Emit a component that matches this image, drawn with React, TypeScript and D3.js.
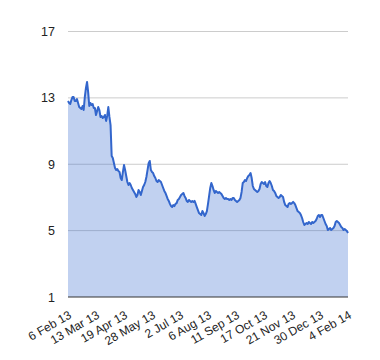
import { useEffect, useRef } from "react";
import * as d3 from "d3";

// trading-day closes, 6 Feb 13 .. 4 Feb 14
const closes: number[] = [
  12.81, 12.69, 12.63, 12.87, 13.05, 13.05, 12.81, 12.81, 12.93, 12.69,
  12.45, 12.39, 12.33, 12.51, 12.27, 13.05, 13.59, 13.96, 13.35, 12.51,
  12.69, 12.57, 12.63, 12.39, 12.39,
  11.97, 12.21, 12.45, 12.27, 11.85, 11.91, 11.79, 11.85, 11.97, 11.61,
  11.91, 12.45, 11.85, 11.36, 9.5, 9.38, 9.08, 8.77, 8.65, 8.71,
  8.59, 8.53, 8.17, 8.05, 8.53,
  8.95, 8.65, 8.29, 7.93, 7.75, 7.87, 7.75, 7.57, 7.45, 7.33,
  7.21, 7.03, 7.15, 7.45, 7.33, 7.15, 7.39, 7.63, 7.75, 7.93,
  8.23, 8.65, 9.07, 9.2, 8.65,
  8.53, 8.47, 8.29, 8.17, 7.99, 7.93, 8.05, 7.99, 7.93, 7.75,
  7.57, 7.39, 7.27, 7.09, 6.91, 6.79, 6.61, 6.48, 6.42, 6.54,
  6.48, 6.61, 6.66, 6.85, 6.91,
  7.03, 7.15, 7.21, 7.27, 7.09, 6.97, 6.79, 6.73, 6.85, 6.79,
  6.73, 6.79, 6.73, 6.79, 6.61, 6.42, 6.24, 6.06, 6.0, 5.94,
  6.18, 6.06, 5.88, 6.0, 6.18,
  6.61, 7.09, 7.57, 7.87, 7.69, 7.45, 7.27, 7.39, 7.33, 7.27,
  7.33, 7.27, 7.21, 7.09, 6.97, 6.91, 6.97, 6.91, 6.91, 6.85,
  6.91, 6.85, 6.97, 6.97, 6.85,
  6.79, 6.73, 6.79, 6.85, 6.97, 7.33, 7.87, 7.93, 8.05, 7.99,
  8.17, 8.29, 8.35, 8.47, 8.17, 7.69, 7.51, 7.45, 7.39, 7.33,
  7.39, 7.51, 7.81, 7.93, 7.87,
  7.81, 7.93, 7.69, 7.63, 7.87, 7.99, 7.87, 7.69, 7.45, 7.39,
  7.27, 7.09, 7.03, 6.97, 7.03, 7.15, 7.09, 7.03, 6.73, 6.54,
  6.48, 6.42, 6.61, 6.66, 6.61,
  6.66, 6.73, 6.66, 6.54, 6.36, 6.18, 6.12, 6.06, 5.94, 5.76,
  5.52, 5.34, 5.4, 5.46, 5.4, 5.52, 5.46, 5.4, 5.52, 5.46,
  5.52, 5.58, 5.7, 5.88, 5.94,
  5.82, 5.94, 5.94, 5.76, 5.58, 5.4, 5.28, 5.04, 5.1, 5.16,
  5.04, 5.1, 5.16, 5.28, 5.52, 5.58, 5.52, 5.46, 5.34, 5.22,
  5.16, 5.04, 5.1, 5.04, 4.98, 4.86,
];

// one label every 25 trading days
const dateLabels = [
  "6 Feb 13", "13 Mar 13", "19 Apr 13", "28 May 13", "2 Jul 13", "6 Aug 13",
  "11 Sep 13", "17 Oct 13", "21 Nov 13", "30 Dec 13", "4 Feb 14",
];
const yTicks = [1, 5, 9, 13, 17];

export default function App() {
  const ref = useRef<HTMLDivElement>(null);

  useEffect(() => {
    document.body.style.margin = "0";
    const container = d3.select(ref.current);
    container.select("svg").remove();

    const W = 380;
    const H = 360;
    const LEFT = 68, RIGHT = 348, TOP = 31.5, BOTTOM = 297;
    const FONT = "Arial, 'Liberation Sans', sans-serif";

    const svg = container.append("svg")
      .attr("width", W)
      .attr("height", H)
      .style("display", "block");

    const x = d3.scaleLinear().domain([0, closes.length - 1]).range([LEFT, RIGHT]);
    const y = d3.scaleLinear().domain([1, 17]).range([BOTTOM, TOP]);

    // gridlines
    svg.append("g")
      .selectAll("line")
      .data(yTicks.slice(1))
      .join("line")
      .attr("x1", LEFT)
      .attr("x2", RIGHT)
      .attr("y1", d => y(d))
      .attr("y2", d => y(d))
      .attr("stroke", "#cccccc")
      .attr("stroke-width", 1);

    // y labels
    svg.append("g")
      .selectAll("text")
      .data(yTicks)
      .join("text")
      .attr("x", 55)
      .attr("y", d => y(d))
      .attr("dy", "0.36em")
      .attr("text-anchor", "end")
      .attr("font-family", FONT)
      .attr("font-size", 12.5)
      .attr("fill", "#222222")
      .text(d => d);

    const area = d3.area<number>()
      .x((_, i) => x(i))
      .y0(y(1))
      .y1(d => y(d));

    const line = d3.line<number>()
      .x((_, i) => x(i))
      .y(d => y(d));

    svg.append("path")
      .datum(closes)
      .attr("fill", "#3366cc")
      .attr("fill-opacity", 0.3)
      .attr("d", area);

    svg.append("path")
      .datum(closes)
      .attr("fill", "none")
      .attr("stroke", "#3366cc")
      .attr("stroke-width", 2)
      .attr("stroke-linejoin", "round")
      .attr("d", line);

    // baseline
    svg.append("line")
      .attr("x1", LEFT)
      .attr("x2", RIGHT)
      .attr("y1", y(1))
      .attr("y2", y(1))
      .attr("stroke", "#333333")
      .attr("stroke-width", 1);

    // slanted x labels
    svg.append("g")
      .selectAll("text")
      .data(dateLabels)
      .join("text")
      .attr("transform", (_, i) => `translate(${x(i * 25)},${BOTTOM + 13}) rotate(-30)`)
      .attr("text-anchor", "end")
      .attr("dy", "0.71em")
      .attr("font-family", FONT)
      .attr("font-size", 12)
      .attr("fill", "#222222")
      .text(d => d);
  }, []);

  return <div ref={ref}></div>;
}
